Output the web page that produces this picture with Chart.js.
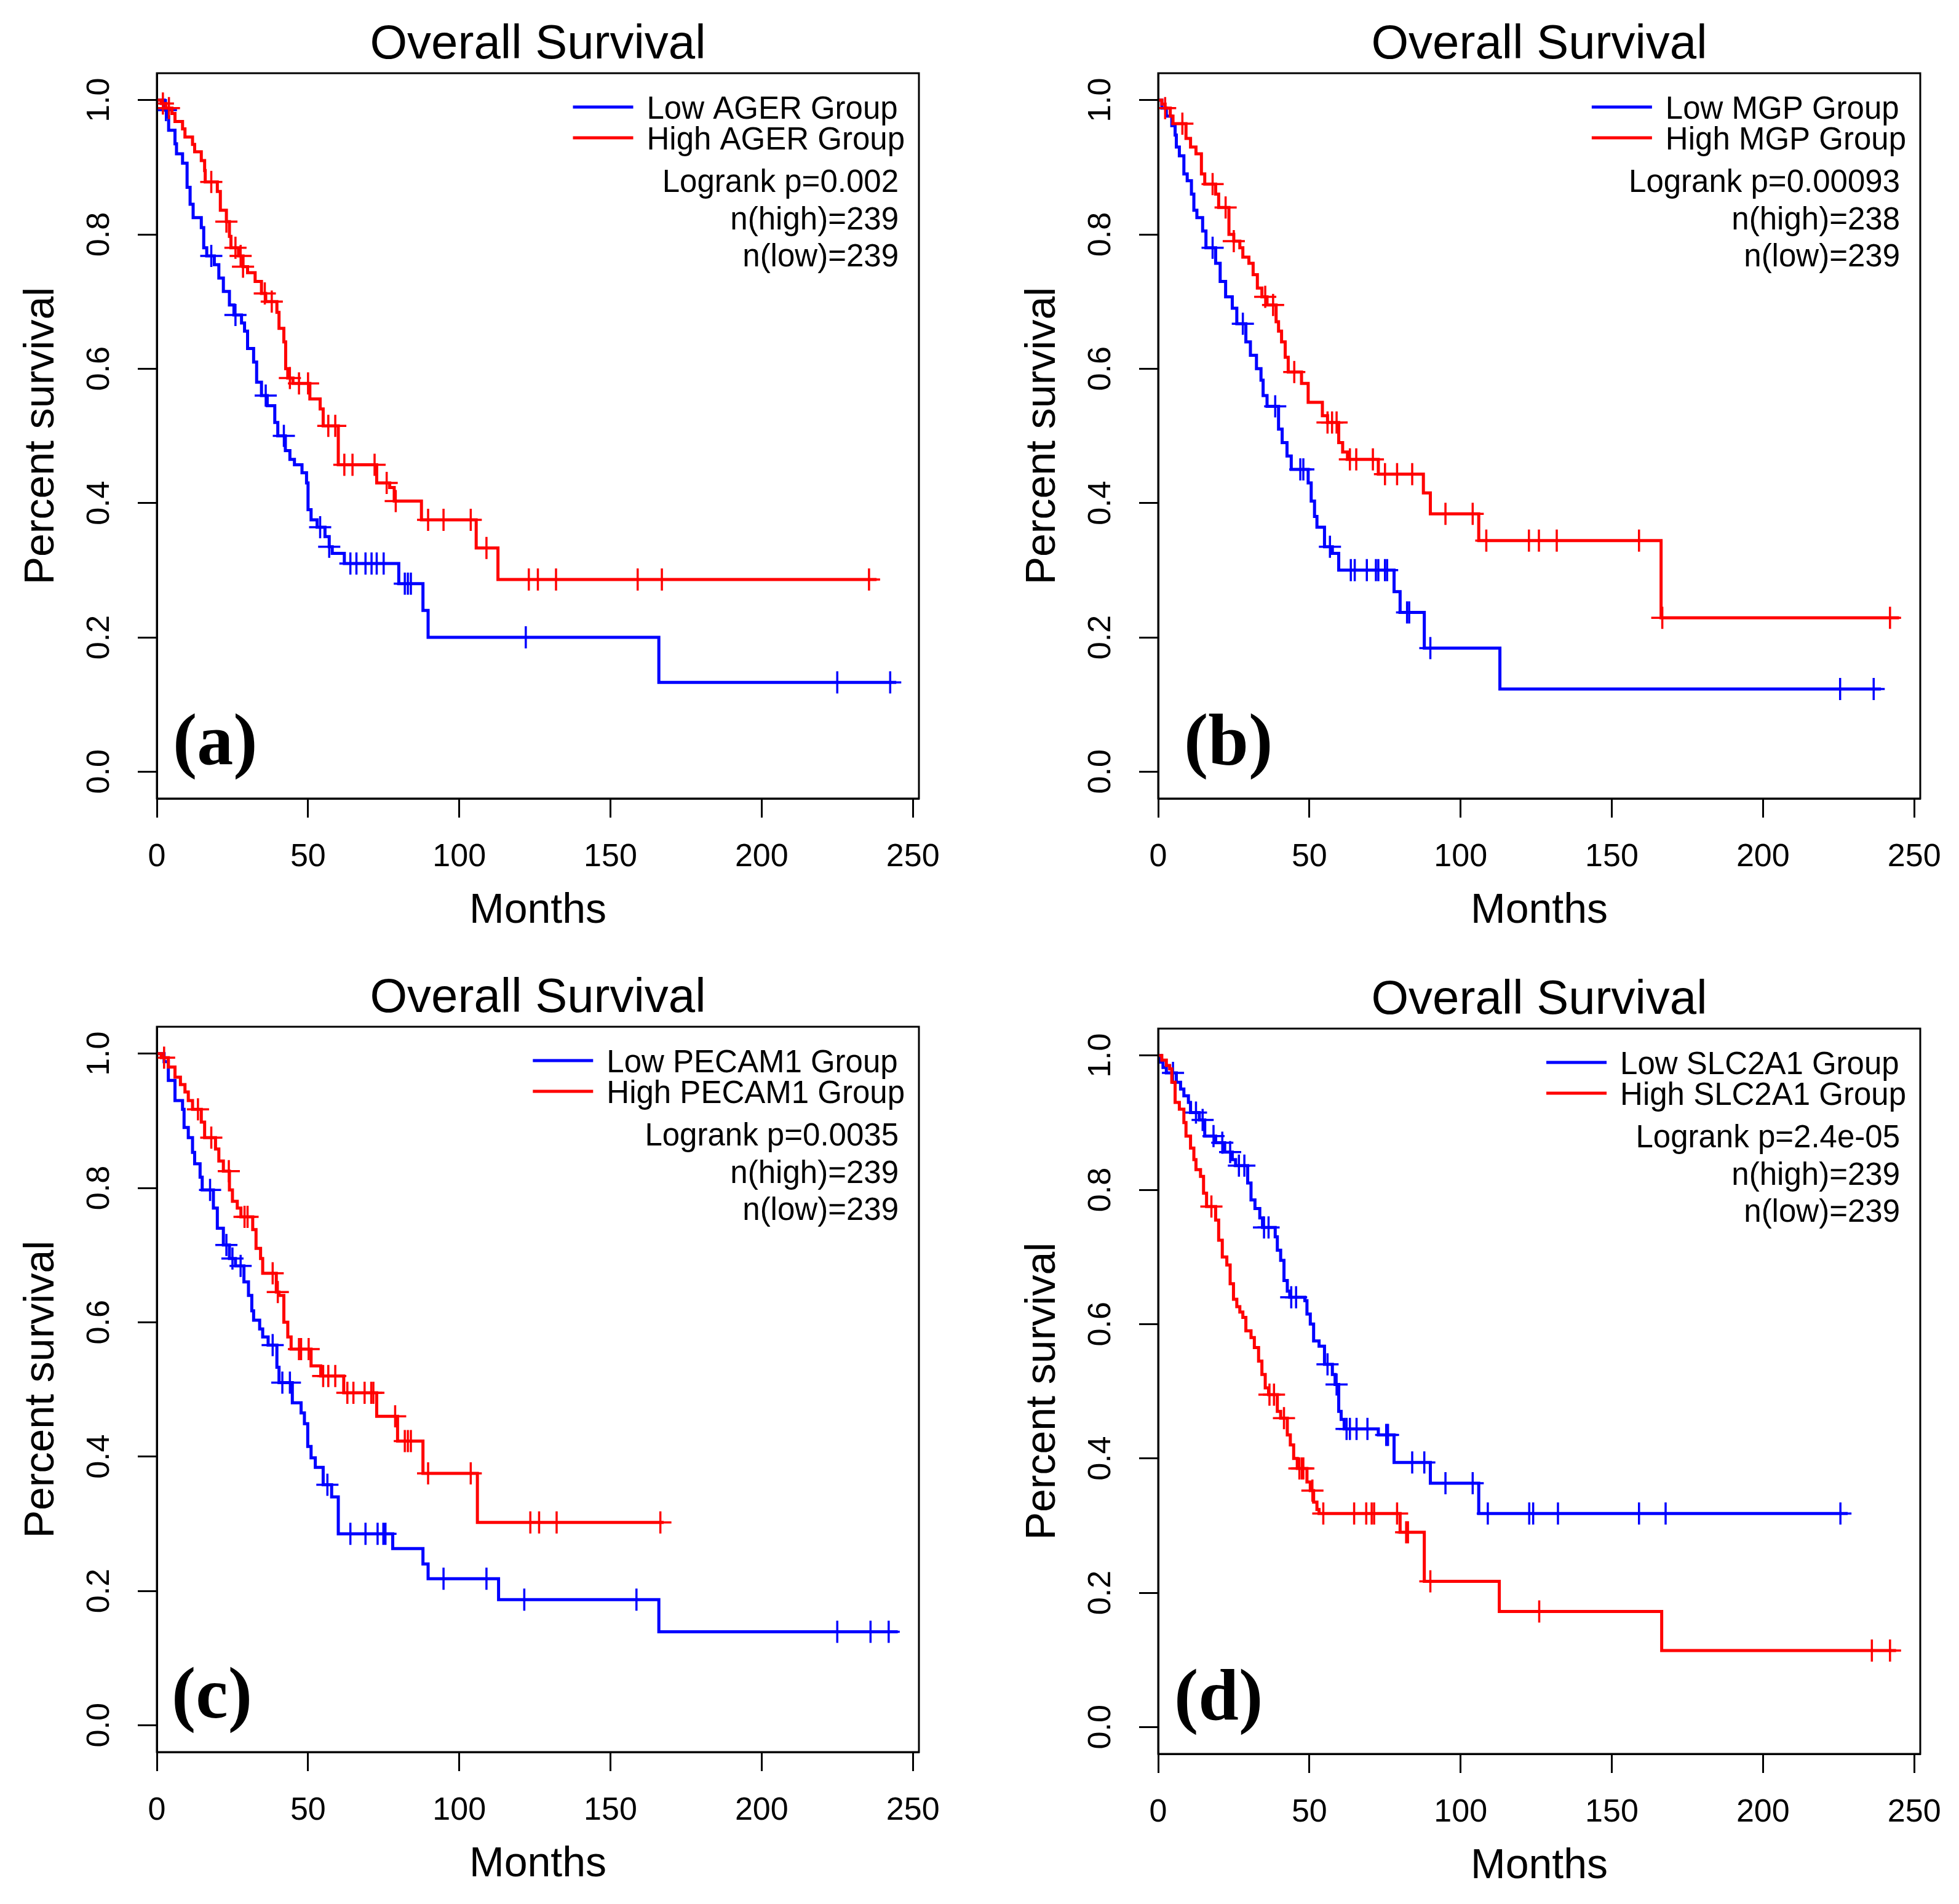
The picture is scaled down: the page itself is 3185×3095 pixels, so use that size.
<!DOCTYPE html>
<html>
<head>
<meta charset="utf-8">
<script src="https://cdn.jsdelivr.net/npm/chart.js@4.4.1/dist/chart.umd.min.js"></script>
<style>
  body { margin: 0; background: #fff; width: 3185px; height: 3095px; overflow: hidden; position: relative; }
  canvas { position: absolute; }
</style>
</head>
<body>
<canvas id="chartA" width="1575" height="1545" style="left:0px;top:0px"></canvas>
<canvas id="chartB" width="1575" height="1545" style="left:1628px;top:0px"></canvas>
<canvas id="chartC" width="1575" height="1545" style="left:0px;top:1550px"></canvas>
<canvas id="chartD" width="1575" height="1545" style="left:1628px;top:1553px"></canvas>
<script>
// DATA
const xTicks = [0, 50, 100, 150, 200, 250];
const yTicks = [0, 0.2, 0.4, 0.6, 0.8, 1.0];

// (a) AGER
const aLowTimes = [2.5, 3.5, 3.9, 6, 6.5, 8.5, 10, 11, 12, 14.7, 15.5, 16.5, 19, 20.5, 22, 24, 25.5, 28, 29, 30, 32, 33, 34.6, 36.5, 39, 40, 42.5, 44, 45.5, 48, 49.5, 50, 51, 53, 55.6, 57, 58, 62, 80, 88, 89.7, 166];
const aLowSurv = [0.985, 0.975, 0.955, 0.935, 0.92, 0.906, 0.87, 0.845, 0.825, 0.81, 0.78, 0.768, 0.755, 0.735, 0.715, 0.695, 0.68, 0.668, 0.656, 0.63, 0.61, 0.58, 0.56, 0.545, 0.52, 0.5, 0.478, 0.465, 0.457, 0.445, 0.43, 0.39, 0.375, 0.364, 0.35, 0.335, 0.325, 0.31, 0.28, 0.24, 0.2, 0.133];
const aLowEnd = 244.5;
const aLowCensor = [3, 18, 26, 36, 42, 54, 57, 64, 66, 69, 71, 72.7, 75, 82, 83, 84, 122, 225, 242.5];
const aHighTimes = [1.5, 3, 5, 6, 8.5, 9.3, 11.8, 12.5, 14.7, 15.8, 16, 20, 21, 23, 24, 24.5, 27, 28.5, 30, 32.5, 34.6, 36, 39.7, 40.4, 42, 42.6, 43.3, 45, 50.6, 54, 55, 60, 72.7, 77, 78.5, 87.5, 105.6, 112.8];
const aHighSurv = [0.995, 0.988, 0.98, 0.968, 0.957, 0.945, 0.934, 0.923, 0.91, 0.895, 0.878, 0.864, 0.836, 0.819, 0.797, 0.78, 0.768, 0.752, 0.743, 0.73, 0.712, 0.7, 0.684, 0.66, 0.64, 0.6, 0.586, 0.578, 0.555, 0.54, 0.515, 0.457, 0.43, 0.423, 0.403, 0.375, 0.333, 0.286];
const aHighEnd = 238;
const aHighCensor = [2, 4, 18, 23, 26, 27.7, 28.5, 35.7, 38, 44, 47, 50, 56.7, 59, 62, 64.7, 72, 76, 79, 89.7, 94.8, 103.8, 109, 123, 126, 132, 159, 167, 235.5];

// (b) MGP
const bLowTimes = [1.2, 2.7, 4.5, 5.6, 6, 7, 8.5, 9.6, 11, 11.8, 12.8, 14.7, 15.8, 19, 20.5, 22.3, 24.5, 26, 29, 30.5, 32.5, 34, 34.7, 36, 39.8, 41, 42.6, 44, 49.6, 50.6, 51.7, 52.5, 55, 57.6, 59.7, 78, 80, 88, 113];
const bLowSurv = [0.988, 0.976, 0.962, 0.948, 0.93, 0.917, 0.89, 0.88, 0.86, 0.836, 0.825, 0.805, 0.78, 0.757, 0.73, 0.707, 0.69, 0.667, 0.64, 0.62, 0.6, 0.583, 0.56, 0.544, 0.51, 0.49, 0.47, 0.45, 0.43, 0.403, 0.38, 0.364, 0.335, 0.325, 0.3, 0.268, 0.237, 0.184, 0.123];
const bLowEnd = 239;
const bLowCensor = [18, 28, 38.7, 47, 48, 56.8, 63.7, 65, 69, 72, 72.8, 75, 75.7, 82.3, 83, 90, 225.5, 236.6];
const bHighTimes = [1.2, 2.3, 4, 4.9, 9.2, 10.7, 12.5, 14.3, 15.4, 19, 20, 23.4, 25, 27, 28, 30, 31.4, 32.8, 34.3, 36, 39, 39.8, 40.8, 42, 43, 47.4, 49.6, 54.3, 56, 59.7, 61, 62.6, 72.8, 87.7, 90, 106, 166.3];
const bHighSurv = [0.994, 0.988, 0.976, 0.965, 0.943, 0.93, 0.92, 0.89, 0.875, 0.86, 0.84, 0.8, 0.79, 0.78, 0.766, 0.757, 0.74, 0.72, 0.707, 0.695, 0.67, 0.656, 0.64, 0.617, 0.595, 0.578, 0.55, 0.53, 0.52, 0.49, 0.476, 0.465, 0.443, 0.415, 0.384, 0.344, 0.229];
const bHighEnd = 245;
const bHighCensor = [2.3, 8, 18, 22.3, 25, 35.4, 38, 45, 56, 57.5, 59, 63.4, 65.5, 71, 75, 79, 84, 95, 104, 108.5, 122.6, 125.9, 131.8, 159, 166.7, 242];

// (c) PECAM1
const cLowTimes = [2.4, 3.8, 6, 8.5, 9, 10.4, 11.8, 12.5, 14.3, 15, 18.7, 20, 22, 24, 26, 28.8, 30.3, 31.4, 32, 34, 35, 36.8, 39.7, 40.4, 44.8, 47.7, 48.8, 49.9, 51, 52.4, 55, 57.8, 60, 78, 88, 89.7, 113, 166];
const cLowSurv = [0.988, 0.96, 0.93, 0.917, 0.89, 0.875, 0.853, 0.836, 0.816, 0.797, 0.77, 0.74, 0.715, 0.695, 0.684, 0.66, 0.64, 0.617, 0.603, 0.59, 0.578, 0.566, 0.533, 0.51, 0.48, 0.465, 0.449, 0.415, 0.398, 0.384, 0.358, 0.34, 0.285, 0.263, 0.24, 0.218, 0.187, 0.139];
const cLowEnd = 245;
const cLowCensor = [17.6, 23, 25, 27.7, 38.3, 41.5, 44, 56.4, 64, 69, 73, 74.9, 75.6, 94.8, 109, 121.5, 158.6, 225, 236, 242];
const cHighTimes = [1.5, 3.8, 6, 7.8, 9.3, 10.4, 11.8, 14.7, 15.8, 19.4, 20.5, 22, 24, 25, 26.6, 27.8, 31.7, 32.8, 34.3, 35, 39.5, 40.4, 42, 43.3, 44.4, 51, 54.2, 61.8, 72.7, 79.6, 88, 106];
const cHighSurv = [0.994, 0.98, 0.965, 0.954, 0.943, 0.93, 0.917, 0.898, 0.875, 0.858, 0.84, 0.825, 0.797, 0.78, 0.77, 0.757, 0.738, 0.71, 0.695, 0.673, 0.645, 0.64, 0.6, 0.578, 0.56, 0.535, 0.52, 0.495, 0.46, 0.423, 0.375, 0.302];
const cHighEnd = 167.6;
const cHighCensor = [2.4, 13.6, 18, 23.8, 29, 30, 38.3, 40, 47, 47.7, 50.2, 55, 56.7, 59, 63, 65, 68.7, 70.9, 71.6, 78.8, 82, 83, 84, 89.7, 103.8, 123.5, 126.4, 132.2, 166.5];

// (d) SLC2A1
const dLowTimes = [0.9, 1.6, 2.7, 6, 7.4, 8.5, 10, 10.7, 13.6, 15.4, 19, 22, 24.5, 25.6, 29.6, 30.7, 32, 33.6, 34.5, 38.7, 39.4, 40.5, 41.6, 42.7, 43.5, 48.5, 49.2, 50.3, 51.4, 53.2, 55, 57.6, 58.5, 59.7, 60.5, 61.5, 72.8, 78, 90, 106];
const dLowSurv = [0.99, 0.982, 0.974, 0.96, 0.95, 0.94, 0.93, 0.915, 0.904, 0.88, 0.87, 0.856, 0.845, 0.836, 0.81, 0.785, 0.772, 0.758, 0.744, 0.73, 0.71, 0.695, 0.665, 0.649, 0.64, 0.635, 0.615, 0.6, 0.575, 0.567, 0.54, 0.525, 0.51, 0.47, 0.458, 0.444, 0.435, 0.394, 0.363, 0.318];
const dLowEnd = 228;
const dLowCensor = [4.9, 12.5, 14.7, 18.3, 21.2, 23.8, 26.7, 28.5, 35, 36.5, 44, 45.6, 56, 59, 62.3, 63.4, 65.6, 69.2, 75.4, 76, 84, 88, 95, 104, 109, 122.7, 124, 132.2, 159, 167.8, 225.6];
const dHighTimes = [1.2, 2.7, 3.8, 4.5, 5.6, 7, 8.5, 9.2, 10.7, 11.8, 12.5, 14, 15, 16, 19, 20, 21.2, 22.7, 23.8, 24.9, 26, 27, 28, 29, 30.7, 31.8, 33.2, 34.3, 35.4, 36.5, 39.4, 40.5, 42.7, 43.7, 44.8, 46, 49.2, 50.3, 51.4, 52.5, 53.2, 80, 88, 112.8, 166.5];
const dHighSurv = [0.993, 0.985, 0.98, 0.96, 0.93, 0.92, 0.9, 0.88, 0.862, 0.845, 0.83, 0.82, 0.795, 0.775, 0.755, 0.725, 0.7, 0.688, 0.66, 0.637, 0.626, 0.618, 0.61, 0.59, 0.58, 0.565, 0.545, 0.525, 0.505, 0.495, 0.47, 0.46, 0.435, 0.42, 0.4, 0.385, 0.365, 0.352, 0.335, 0.324, 0.318, 0.29, 0.217, 0.172, 0.114];
const dHighEnd = 244;
const dHighCensor = [17.6, 36.8, 38.3, 41.6, 46.7, 47.5, 48, 51, 54.6, 64.8, 68.8, 70.6, 71.4, 79, 82, 82.6, 90, 126, 236, 242];

// LAYOUT (canvas px)
const W = 1575, H = 1545;
const BOX_LEFT = 255, BOX_TOP = 119, BOX_RIGHT = 1494, BOX_BOTTOM = 1298;
const FONT = '"Liberation Sans", Arial, sans-serif';
const BLUE = '#0000ff', RED = '#ff0000';

// KM step curve: starts at (0,1), drops at each event time, runs flat to last follow-up
function stepCurve(times, surv, end) {
    let pts = [{ x: 0, y: 1 }];
    for (let i = 0; i < times.length; i++) {
        pts.push({ x: times[i], y: surv[i] });
    }
    pts.push({ x: end, y: surv[surv.length - 1] });
    return pts;
}

// censor ticks sit on the curve at their time
function censorMarks(times, surv, cens) {
    return cens.map(t => {
        let s = 1;
        for (let i = 0; i < times.length; i++) {
            if (times[i] <= t) s = surv[i];
        }
        return { x: t, y: s };
    });
}

const panelDecor = {
    id: 'panelDecor',
    afterDraw(chart, args, o) {
        const ctx = chart.ctx, a = chart.chartArea;
        ctx.save();
        ctx.strokeStyle = '#000';
        ctx.lineWidth = 3;
        ctx.strokeRect(a.left, a.top, a.right - a.left, a.bottom - a.top);

        ctx.fillStyle = '#000';
        ctx.textBaseline = 'alphabetic';
        ctx.textAlign = 'center';
        ctx.font = '78px ' + FONT;
        ctx.fillText('Overall Survival', (a.left + a.right) / 2, a.top - 24);

        // legend
        ctx.font = '51px ' + FONT;
        let w = Math.max(...o.groups.map(g => ctx.measureText(g).width));
        let textX = a.right - 23 - w;
        o.groups.forEach((g, i) => {
            let ly = a.top + 55 + i * 50;
            ctx.strokeStyle = o.colors[i];
            ctx.lineWidth = 5;
            ctx.beginPath();
            ctx.moveTo(textX - 120, ly);
            ctx.lineTo(textX - 22, ly);
            ctx.stroke();
            ctx.textAlign = 'left';
            ctx.fillText(g, textX, ly + 19);
        });
        ctx.textAlign = 'right';
        o.stats.forEach((s, i) => ctx.fillText(s, a.right - 33, a.top + 193 + i * 60.5));

        ctx.font = 'bold 118px "Liberation Serif", "Times New Roman", serif';
        ctx.textAlign = 'left';
        ctx.fillText(o.tag, a.left + o.tagDx, a.bottom - 56);
        ctx.restore();
    }
};

function makePanel(id, low, high, decor) {
    const ctx = document.getElementById(id).getContext('2d');
    return new Chart(ctx, {
        type: 'scatter',
        data: {
            datasets: [
                { data: high.curve, showLine: true, stepped: true, borderColor: RED, borderWidth: 5, pointRadius: 0, tension: 0 },
                { data: high.marks, showLine: false, pointStyle: 'cross', pointRadius: 18, pointHoverRadius: 18, pointBorderColor: RED, pointBorderWidth: 3.5 },
                { data: low.curve, showLine: true, stepped: true, borderColor: BLUE, borderWidth: 5, pointRadius: 0, tension: 0 },
                { data: low.marks, showLine: false, pointStyle: 'cross', pointRadius: 18, pointHoverRadius: 18, pointBorderColor: BLUE, pointBorderWidth: 3.5 }
            ]
        },
        options: {
            responsive: false,
            animation: false,
            devicePixelRatio: 1,
            layout: { padding: { left: 0, top: BOX_TOP, right: W - BOX_RIGHT, bottom: 0 } },
            plugins: { legend: { display: false }, tooltip: { enabled: false }, panelDecor: decor },
            scales: {
                x: {
                    type: 'linear', min: 0, max: 252,
                    afterBuildTicks: s => { s.ticks = xTicks.map(v => ({ value: v })); },
                    afterFit: s => { s.height = H - BOX_BOTTOM; },
                    grid: { drawOnChartArea: false, drawTicks: true, tickLength: 31, tickWidth: 3, tickColor: '#000' },
                    border: { display: true, color: '#000', width: 3 },
                    ticks: { font: { family: FONT, size: 52 }, color: '#000', padding: 33, maxRotation: 0, autoSkip: false, callback: v => String(v) },
                    title: { display: true, text: 'Months', font: { family: FONT, size: 68 }, color: '#000', padding: { top: 0, bottom: 23 } }
                },
                y: {
                    type: 'linear', min: -0.04, max: 1.04,
                    afterBuildTicks: s => { s.ticks = yTicks.map(v => ({ value: v })); },
                    afterFit: s => { s.width = BOX_LEFT; },
                    grid: { drawOnChartArea: false, drawTicks: true, tickLength: 31, tickWidth: 3, tickColor: '#000' },
                    border: { display: true, color: '#000', width: 3 },
                    ticks: { font: { family: FONT, size: 52 }, color: '#000', padding: 25, minRotation: 90, maxRotation: 90, crossAlign: 'center', autoSkip: false, callback: v => v.toFixed(1) },
                    title: { display: true, text: 'Percent survival', font: { family: FONT, size: 68 }, color: '#000', padding: { top: 27, bottom: 0 } }
                }
            }
        },
        plugins: [panelDecor]
    });
}

makePanel('chartA',
    { curve: stepCurve(aLowTimes, aLowSurv, aLowEnd), marks: censorMarks(aLowTimes, aLowSurv, aLowCensor) },
    { curve: stepCurve(aHighTimes, aHighSurv, aHighEnd), marks: censorMarks(aHighTimes, aHighSurv, aHighCensor) },
    { groups: ['Low AGER Group', 'High AGER Group'], colors: [BLUE, RED], stats: ['Logrank p=0.002', 'n(high)=239', 'n(low)=239'], tag: '(a)', tagDx: 26 });

makePanel('chartB',
    { curve: stepCurve(bLowTimes, bLowSurv, bLowEnd), marks: censorMarks(bLowTimes, bLowSurv, bLowCensor) },
    { curve: stepCurve(bHighTimes, bHighSurv, bHighEnd), marks: censorMarks(bHighTimes, bHighSurv, bHighCensor) },
    { groups: ['Low MGP Group', 'High MGP Group'], colors: [BLUE, RED], stats: ['Logrank p=0.00093', 'n(high)=238', 'n(low)=239'], tag: '(b)', tagDx: 42 });

makePanel('chartC',
    { curve: stepCurve(cLowTimes, cLowSurv, cLowEnd), marks: censorMarks(cLowTimes, cLowSurv, cLowCensor) },
    { curve: stepCurve(cHighTimes, cHighSurv, cHighEnd), marks: censorMarks(cHighTimes, cHighSurv, cHighCensor) },
    { groups: ['Low PECAM1 Group', 'High PECAM1 Group'], colors: [BLUE, RED], stats: ['Logrank p=0.0035', 'n(high)=239', 'n(low)=239'], tag: '(c)', tagDx: 24 });

makePanel('chartD',
    { curve: stepCurve(dLowTimes, dLowSurv, dLowEnd), marks: censorMarks(dLowTimes, dLowSurv, dLowCensor) },
    { curve: stepCurve(dHighTimes, dHighSurv, dHighEnd), marks: censorMarks(dHighTimes, dHighSurv, dHighCensor) },
    { groups: ['Low SLC2A1 Group', 'High SLC2A1 Group'], colors: [BLUE, RED], stats: ['Logrank p=2.4e-05', 'n(high)=239', 'n(low)=239'], tag: '(d)', tagDx: 26 });
</script>
</body>
</html>
